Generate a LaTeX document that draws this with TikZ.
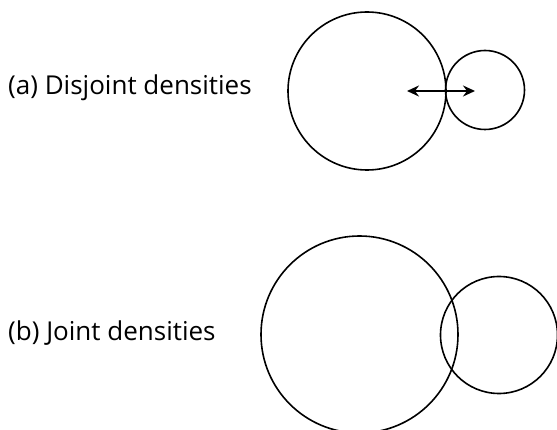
\documentclass[tikz,border=0pt]{standalone}
\usepackage{fontspec}
\setmainfont{Open Sans}
\usetikzlibrary{arrows.meta}
\begin{document}
\begin{tikzpicture}[x=1pt,y=-1pt,
  density/.style={draw=black, line width=1.6pt, circle, inner sep=0pt, minimum size=#1},
  caption/.style={anchor=base west, inner sep=0pt, font=\fontsize{26}{30}\selectfont},
  gap/.style={line width=2.2pt, {Stealth[length=12pt,width=11pt,inset=4pt]}-{Stealth[length=12pt,width=11pt,inset=4pt]}}]
  \useasboundingbox (0,0) rectangle (557,430);
  \clip (0,0) rectangle (557,430);

  % (a) two separated densities
  \node[caption] (capA) at (8,94.5) {(a) Disjoint densities};
  \node[density=158pt] (bigA) at (367,91) {};
  \node[density=79pt] (smallA) at (485,90) {};
  \coordinate (gapL) at (407,91);
  \coordinate (gapR) at (475,91);
  \draw[gap] (gapL) -- (gapR);

  % (b) two overlapping densities
  \node[caption] (capB) at (8,340.5) {(b) Joint densities};
  \node[density=197pt] (bigB) at (359.5,334.5) {};
  \node[density=117pt] (smallB) at (499,335) {};
\end{tikzpicture}
\end{document}
